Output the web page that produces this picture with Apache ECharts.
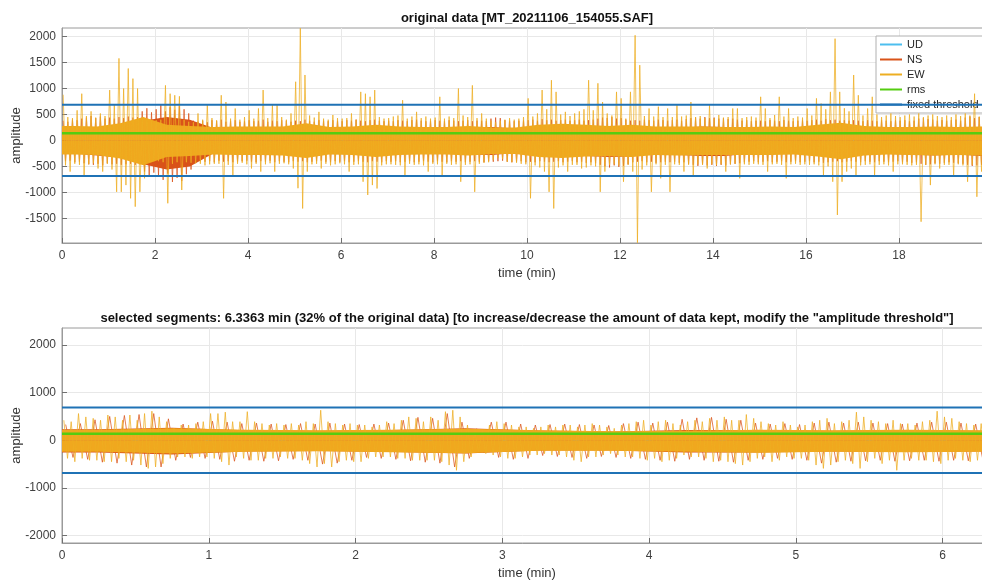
<!DOCTYPE html>
<html>
<head>
<meta charset="utf-8">
<script src="https://cdn.jsdelivr.net/npm/echarts@6/dist/echarts.min.js"></script>
<style>
html, body { margin: 0; padding: 0; background: #fff; }
#chart { width: 982px; height: 580px; }
</style>
</head>
<body>
<div id="chart"></div>
<script>
// ---------------- data ----------------
// Upper panel: full record, 0-20 min. Envelope per bin (max / min of the trace).
const topMinutes = 20;
const ewTopBin = 0.1;   // min per EW bin
const nsTopBin = 0.1;   // min per NS bin
const coreTopBin = 0.5; // min per dense-core bin
const udTopBin = 1;

const ewTopHi = [
  880, 450, 430, 580, 900, 470, 560, 440, 520, 470,
  970, 680, 1580, 1000, 1385, 1190, 1000, 450, 400, 380,
  390, 400, 1060, 900, 870, 850, 400, 360, 350, 520,
  400, 680, 430, 390, 870, 740, 420, 615, 400, 450,
  580, 420, 615, 970, 430, 680, 680, 450, 400, 520,
  1130, 2160, 1260, 480, 440, 550, 420, 400, 490, 430,
  420, 430, 520, 400, 935, 900, 840, 970, 450, 420,
  430, 460, 480, 775, 420, 460, 550, 430, 460, 420,
  440, 840, 420, 460, 430, 1000, 480, 450, 1060, 430,
  520, 420, 380, 350, 380, 400, 430, 400, 420, 450,
  810, 460, 520, 970, 600, 1160, 935, 500, 550, 470,
  520, 560, 600, 1160, 580, 1100, 740, 520, 480, 935,
  810, 420, 935, 2025, 1450, 470, 615, 460, 650, 450,
  615, 450, 680, 460, 480, 740, 450, 470, 430, 680,
  430, 490, 440, 450, 615, 615, 430, 450, 460, 440,
  840, 615, 430, 490, 840, 460, 615, 430, 460, 440,
  615, 480, 810, 710, 600, 935, 1960, 935, 620, 560,
  1260, 870, 480, 615, 840, 500, 450, 480, 520, 470,
  450, 480, 500, 460, 520, 450, 480, 500, 470, 450,
  480, 450, 500, 470, 520, 480, 900, 460, 480, 450
];
const ewTopLo = [
  -480, -600, -450, -470, -700, -460, -440, -540, -600, -450,
  -560, -990, -990, -860, -1115, -1275, -990, -730, -420, -400,
  -400, -420, -1210, -450, -420, -955, -420, -430, -440, -450,
  -480, -460, -450, -450, -1115, -470, -670, -450, -430, -460,
  -540, -450, -600, -460, -440, -600, -450, -440, -460, -540,
  -920, -1310, -600, -460, -450, -540, -450, -480, -460, -440,
  -460, -600, -470, -460, -795, -1050, -860, -925, -480, -460,
  -460, -470, -480, -670, -450, -470, -460, -480, -600, -450,
  -460, -670, -450, -470, -460, -795, -470, -460, -990, -450,
  -430, -420, -380, -340, -360, -410, -420, -430, -450, -460,
  -1115, -480, -520, -600, -990, -1310, -520, -480, -600, -470,
  -470, -540, -520, -480, -500, -990, -600, -470, -460, -480,
  -795, -470, -600, -1970, -560, -480, -990, -460, -730, -470,
  -990, -460, -470, -600, -470, -670, -460, -470, -540, -460,
  -475, -460, -600, -460, -450, -730, -460, -470, -450, -460,
  -470, -600, -460, -450, -470, -730, -460, -450, -470, -460,
  -470, -460, -480, -670, -500, -795, -1435, -795, -600, -540,
  -670, -480, -470, -460, -670, -470, -460, -480, -600, -460,
  -460, -470, -480, -470, -1565, -470, -860, -460, -540, -470,
  -470, -670, -460, -480, -795, -470, -1085, -600, -470, -460
];
const nsTopHi = [
  380, 360, 400, 390, 420, 440, 470, 430, 460, 420,
  440, 420, 450, 430, 460, 440, 450, 560, 620, 540,
  600, 680, 560, 640, 590, 660, 600, 520, 380, 360,
  380, 350, 390, 370, 400, 360, 380, 390, 360, 370,
  390, 370, 380, 400, 360, 380, 370, 390, 380, 360,
  380, 370, 400, 380, 360, 390, 380, 370, 390, 380,
  370, 390, 380, 400, 380, 370, 390, 400, 380, 370,
  380, 370, 390, 380, 370, 390, 400, 380, 370, 380,
  390, 380, 370, 390, 380, 370, 380, 390, 370, 380,
  380, 370, 420, 440, 430, 390, 380, 370, 380, 390,
  390, 400, 380, 410, 390, 400, 380, 390, 400, 380,
  390, 400, 380, 390, 400, 420, 440, 430, 450, 420,
  430, 400, 380, 390, 380, 400, 390, 380, 400, 390,
  380, 390, 400, 380, 410, 430, 440, 420, 450, 430,
  440, 420, 430, 410, 420, 400, 380, 390, 370, 380,
  380, 370, 390, 380, 370, 390, 380, 370, 380, 390,
  380, 390, 400, 380, 410, 390, 400, 380, 390, 380,
  390, 380, 370, 390, 380, 370, 390, 380, 370, 390,
  380, 390, 370, 380, 420, 430, 410, 400, 380, 390,
  380, 390, 400, 380, 440, 460, 430, 450, 440, 420
];
const nsTopLo = [
  -400, -390, -420, -410, -440, -460, -470, -450, -480, -440,
  -460, -450, -470, -460, -450, -470, -460, -600, -700, -620,
  -680, -760, -640, -800, -720, -780, -650, -560, -410, -400,
  -410, -400, -420, -390, -410, -400, -420, -410, -400, -390,
  -410, -420, -400, -410, -390, -420, -400, -410, -420, -400,
  -410, -400, -420, -410, -400, -390, -410, -420, -400, -410,
  -400, -420, -410, -400, -410, -420, -400, -410, -420, -400,
  -410, -400, -420, -410, -400, -420, -410, -400, -410, -420,
  -400, -410, -420, -400, -410, -400, -420, -410, -400, -410,
  -420, -400, -410, -400, -390, -410, -420, -410, -400, -420,
  -410, -420, -400, -410, -420, -410, -400, -420, -410, -400,
  -420, -410, -430, -420, -440, -470, -500, -520, -480, -510,
  -490, -460, -420, -410, -400, -420, -410, -430, -420, -410,
  -420, -410, -430, -420, -450, -470, -490, -460, -480, -470,
  -490, -470, -480, -460, -450, -440, -420, -410, -400, -420,
  -410, -400, -420, -410, -400, -420, -410, -400, -420, -410,
  -400, -420, -410, -430, -420, -410, -400, -420, -410, -400,
  -410, -420, -400, -410, -420, -400, -410, -420, -410, -400,
  -420, -410, -430, -420, -450, -470, -460, -440, -450, -430,
  -420, -430, -440, -450, -470, -490, -480, -470, -460, -450
];
// Dense part of each trace (where the signal fills the band solidly)
const ewTopCoreHi = [
  280, 270, 330, 450, 300, 280, 260, 270, 270, 270,
  330, 260, 270, 300, 270, 260, 260, 280, 250, 250,
  300, 320, 300, 280, 300, 270, 270, 270, 260, 260,
  270, 260, 300, 340, 280, 260, 260, 270, 260, 270
];
const ewTopCoreLo = [
  -270, -280, -350, -480, -320, -300, -270, -280, -280, -290,
  -340, -270, -280, -320, -280, -270, -270, -290, -260, -260,
  -320, -340, -310, -300, -320, -280, -290, -280, -280, -280,
  -280, -270, -310, -360, -290, -270, -280, -290, -280, -290
];
const nsTopCoreHi = [
  240, 250, 300, 380, 450, 400, 240, 240, 240, 240,
  280, 230, 240, 260, 240, 230, 230, 250, 260, 230,
  270, 290, 270, 270, 270, 240, 240, 270, 260, 230,
  240, 230, 270, 310, 250, 230, 230, 260, 240, 260
];
const nsTopCoreLo = [
  -250, -290, -330, -460, -560, -500, -250, -260, -260, -260,
  -310, -250, -260, -290, -260, -250, -250, -270, -280, -240,
  -300, -320, -300, -320, -310, -260, -280, -300, -300, -260,
  -260, -250, -290, -330, -270, -260, -270, -290, -270, -300
];
const udTopHi = [180, 230, 200, 170, 180, 210, 180, 170, 180, 170, 200, 200, 190, 180, 170, 180, 210, 180, 170, 180];
const udTopLo = [-190, -240, -210, -180, -190, -220, -190, -180, -190, -180, -210, -210, -200, -190, -180, -190, -220, -190, -180, -190];

// Lower panel: selected segments, 0-6.3363 min.
const botMinutes = 6.3363;
const ewBotBin = 0.05;
const nsBotBin = 0.1;
const coreBotBin = 0.5;
const udBotBin = 1;

const ewBotHi = [
  420, 390, 560, 490, 460, 420, 530, 490, 420, 530,
  420, 560, 610, 490, 390, 250, 320, 320, 350, 390,
  560, 560, 590, 390, 390, 600, 390, 350, 320, 350,
  320, 350, 320, 390, 350, 630, 390, 350, 320, 350,
  320, 320, 280, 320, 390, 350, 420, 490, 460, 390,
  490, 420, 600, 630, 490, 320, 190, 210, 320, 390,
  350, 320, 280, 280, 250, 280, 320, 280, 320, 320,
  280, 320, 350, 320, 280, 250, 320, 350, 390, 420,
  320, 390, 420, 350, 320, 390, 420, 390, 460, 420,
  490, 420, 420, 540, 460, 390, 350, 320, 390, 320,
  280, 320, 390, 420, 460, 350, 390, 420, 590, 490,
  420, 390, 350, 420, 350, 350, 320, 390, 420, 610,
  490, 460, 390, 350, 320, 350, 320
];
const ewBotLo = [
  -380, -450, -380, -420, -420, -450, -450, -380, -450, -420,
  -520, -590, -560, -490, -380, -350, -350, -380, -350, -350,
  -380, -450, -520, -350, -380, -420, -420, -380, -380, -350,
  -380, -380, -420, -490, -560, -490, -560, -450, -420, -450,
  -450, -380, -350, -350, -350, -380, -380, -420, -420, -420,
  -420, -450, -520, -630, -450, -350, -240, -280, -310, -350,
  -380, -380, -350, -310, -310, -280, -310, -310, -350, -420,
  -450, -350, -350, -310, -280, -310, -350, -350, -380, -420,
  -380, -450, -420, -380, -310, -350, -350, -380, -450, -420,
  -450, -490, -520, -450, -380, -350, -450, -420, -350, -380,
  -380, -420, -520, -590, -520, -450, -420, -490, -590, -450,
  -380, -490, -420, -630, -420, -380, -420, -420, -450, -490,
  -420, -380, -420, -450, -420, -450, -420
];
const nsBotHi = [
  330, 350, 430, 500, 520, 540, 560, 450, 340, 380,
  400, 380, 350, 360, 340, 330, 350, 340, 360, 340,
  330, 340, 360, 420, 480, 460, 560, 380, 240, 380,
  380, 340, 320, 330, 340, 330, 320, 310, 350, 380,
  360, 380, 440, 470, 480, 440, 420, 360, 340, 350,
  330, 360, 380, 360, 380, 360, 350, 340, 360, 380,
  380, 360, 340, 350
];
const nsBotLo = [
  -360, -400, -460, -480, -520, -560, -560, -420, -360, -380,
  -400, -440, -420, -440, -430, -400, -420, -500, -480, -420,
  -360, -380, -400, -430, -460, -480, -560, -380, -260, -360,
  -400, -380, -320, -340, -360, -380, -340, -360, -380, -400,
  -420, -440, -400, -420, -440, -460, -420, -400, -380, -400,
  -420, -480, -460, -440, -430, -420, -440, -430, -420, -440,
  -420, -430, -420, -440
];
const ewBotCoreHi = [220, 250, 220, 210, 220, 240, 210, 190, 200, 220, 210, 220, 210];
const ewBotCoreLo = [-240, -280, -240, -230, -250, -270, -220, -220, -240, -260, -240, -250, -240];
const nsBotCoreHi = [230, 260, 210, 200, 215, 250, 205, 185, 215, 215, 200, 210, 200];
const nsBotCoreLo = [-255, -300, -235, -225, -245, -280, -215, -215, -255, -255, -235, -245, -235];
const udBotHi = [160, 170, 170, 150, 160, 165, 160];
const udBotLo = [-170, -180, -175, -160, -170, -175, -170];

// Reference levels
const rmsLevel = 138;
const fixedThreshold = 685;

// Axis limits and tick values
const topYRange = [-1975, 2165];
const botYRange = [-2155, 2355];
const topYTicks = [-1500, -1000, -500, 0, 500, 1000, 1500, 2000];
const botYTicks = [-2000, -1000, 0, 1000, 2000];

const titleTop = 'original data [MT_20211106_154055.SAF]';
const titleBot = 'selected segments: 6.3363 min (32% of the original data) [to increase/decrease the amount of data kept, modify the "amplitude threshold"]';

// ---------------- helpers ----------------
const FONT = '"Liberation Sans", Arial, Helvetica, sans-serif';
const C_UD = '#4DBEEE', C_NS = '#D95319', C_EW = '#EDAE22', C_CORE = '#F0A81E';
const C_RMS = '#55CC11', C_THR = '#1F72B5';

// Trace envelope drawn as a max/min zig-zag, one pair per bin
function zigzag(hi, lo, dt) {
  const pts = [];
  for (let i = 0; i < hi.length; i++) {
    pts.push([i * dt + dt * 0.25, hi[i]]);
    pts.push([i * dt + dt * 0.75, lo[i]]);
  }
  return pts;
}
// Bin-centred points, extended to both ends of the record
function centred(vals, dt, tEnd) {
  const pts = [[0, vals[0]]];
  vals.forEach((v, i) => pts.push([Math.min((i + 0.5) * dt, tEnd), v]));
  pts.push([tEnd, vals[vals.length - 1]]);
  return pts;
}

function traceSeries(name, pts, color, z) {
  return {
    name, type: 'line', data: pts,
    symbol: 'none', sampling: null, silent: true, z,
    lineStyle: { color, width: 0.75 }
  };
}
function coreSeries(pts, color, z) {
  return {
    name: 'core', type: 'line', data: pts,
    symbol: 'none', smooth: false, silent: true, z,
    lineStyle: { width: 0, color },
    areaStyle: { color, opacity: 1 }
  };
}
function levelSeries(name, value, tEnd, color, width) {
  return {
    name, type: 'line', data: [[0, value], [tEnd, value]],
    symbol: 'none', silent: true, z: 6,
    lineStyle: { color, width }
  };
}

const plainNum = v => String(v);

function xAxisPair(g, max, interval) {
  return [{
    gridIndex: g, type: 'value', min: 0, max, interval, position: 'bottom',
    axisLine: { show: true, onZero: false, lineStyle: { color: '#9a9a9a' } },
    axisTick: { show: true, inside: true, length: 5, lineStyle: { color: '#707070' } },
    axisLabel: { color: '#404040', fontSize: 12, fontFamily: FONT, margin: 7,
                 showMaxLabel: false, formatter: plainNum },
    splitLine: { show: true, lineStyle: { color: '#e8e8e8', width: 1 } },
    name: 'time (min)', nameLocation: 'middle', nameGap: 24, nameMoveOverlap: false,
    nameTextStyle: { color: '#333', fontSize: 13, fontFamily: FONT }
  }, {
    gridIndex: g, type: 'value', min: 0, max, interval, position: 'top',
    axisLine: { show: false },
    axisTick: { show: true, inside: true, length: 5, lineStyle: { color: '#707070' } },
    axisLabel: { show: false }, splitLine: { show: false }
  }];
}
function yAxisFor(g, range, ticks) {
  return {
    gridIndex: g, type: 'value', min: range[0], max: range[1],
    axisLine: { show: true, onZero: false, lineStyle: { color: '#9a9a9a' } },
    axisTick: { show: true, inside: true, length: 5, customValues: ticks,
                lineStyle: { color: '#707070' } },
    axisLabel: { color: '#404040', fontSize: 12, fontFamily: FONT, margin: 6,
                 customValues: ticks, formatter: plainNum },
    splitLine: { show: true, lineStyle: { color: '#e8e8e8', width: 1 } },
    name: 'amplitude', nameLocation: 'middle', nameGap: 39, nameRotate: 90,
    nameMoveOverlap: false,
    nameTextStyle: { color: '#333', fontSize: 13, fontFamily: FONT }
  };
}

// One panel's series, bound to its own axes
function panel(xIdx, yIdx, p) {
  const list = [
    traceSeries('UD', zigzag(p.udHi, p.udLo, p.udBin), C_UD, 2),
    coreSeries(centred(p.nsCoreHi, p.coreBin, p.tEnd), C_NS, 2),
    coreSeries(centred(p.nsCoreLo, p.coreBin, p.tEnd), C_NS, 2),
    traceSeries('NS', zigzag(p.nsHi, p.nsLo, p.nsBin), C_NS, 2),
    coreSeries(centred(p.ewCoreHi, p.coreBin, p.tEnd), C_CORE, 3),
    coreSeries(centred(p.ewCoreLo, p.coreBin, p.tEnd), C_CORE, 3),
    traceSeries('EW', zigzag(p.ewHi, p.ewLo, p.ewBin), C_EW, 4),
    levelSeries('rms', rmsLevel, p.tEnd, C_RMS, 2.5),
    levelSeries('fixed threshold', fixedThreshold, p.tEnd, C_THR, 2),
    levelSeries('fixed threshold', -fixedThreshold, p.tEnd, C_THR, 2)
  ];
  list.forEach(s => { s.xAxisIndex = xIdx; s.yAxisIndex = yIdx; });
  return list;
}

const series = [].concat(
  panel(0, 0, {
    tEnd: topMinutes, ewBin: ewTopBin, nsBin: nsTopBin, coreBin: coreTopBin, udBin: udTopBin,
    ewHi: ewTopHi, ewLo: ewTopLo, nsHi: nsTopHi, nsLo: nsTopLo,
    ewCoreHi: ewTopCoreHi, ewCoreLo: ewTopCoreLo, nsCoreHi: nsTopCoreHi, nsCoreLo: nsTopCoreLo,
    udHi: udTopHi, udLo: udTopLo
  }),
  panel(2, 1, {
    tEnd: botMinutes, ewBin: ewBotBin, nsBin: nsBotBin, coreBin: coreBotBin, udBin: udBotBin,
    ewHi: ewBotHi, ewLo: ewBotLo, nsHi: nsBotHi, nsLo: nsBotLo,
    ewCoreHi: ewBotCoreHi, ewCoreLo: ewBotCoreLo, nsCoreHi: nsBotCoreHi, nsCoreLo: nsBotCoreLo,
    udHi: udBotHi, udLo: udBotLo
  })
);

const xTop = xAxisPair(0, topMinutes, 2);
const xBot = xAxisPair(1, botMinutes, 1);

const chart = echarts.init(document.getElementById('chart'), null, { renderer: 'canvas' });
chart.setOption({
  animation: false,
  backgroundColor: '#ffffff',
  textStyle: { fontFamily: FONT },
  grid: [
    { left: 62, top: 28, width: 930, height: 215, show: true, containLabel: false,
      outerBoundsMode: 'none',
      borderColor: '#9a9a9a', borderWidth: 1, backgroundColor: '#fff' },
    { left: 62, top: 328, width: 930, height: 215, show: true, containLabel: false,
      outerBoundsMode: 'none',
      borderColor: '#9a9a9a', borderWidth: 1, backgroundColor: '#fff' }
  ],
  xAxis: [xTop[0], xTop[1], xBot[0], xBot[1]],
  yAxis: [yAxisFor(0, topYRange, topYTicks), yAxisFor(1, botYRange, botYTicks)],
  legend: {
    data: ['UD', 'NS', 'EW', 'rms', 'fixed threshold'],
    orient: 'vertical', left: 876, top: 36,
    itemWidth: 22, itemHeight: 10, itemGap: 4,
    padding: [3, 8, 3, 3],
    itemStyle: { opacity: 0 },
    backgroundColor: '#fff', borderColor: '#b0b0b0', borderWidth: 1,
    selectedMode: false,
    textStyle: { fontSize: 11, color: '#262626', fontFamily: FONT }
  },
  graphic: [
    { type: 'text', x: 527, y: 18, z: 10,
      style: { text: titleTop, align: 'center', verticalAlign: 'middle',
               fontSize: 13, fontWeight: 'bold', fontFamily: FONT, fill: '#111' } },
    { type: 'text', x: 527, y: 318, z: 10,
      style: { text: titleBot, align: 'center', verticalAlign: 'middle',
               fontSize: 13, fontWeight: 'bold', fontFamily: FONT, fill: '#111' } }
  ],
  series
});
</script>
</body>
</html>
